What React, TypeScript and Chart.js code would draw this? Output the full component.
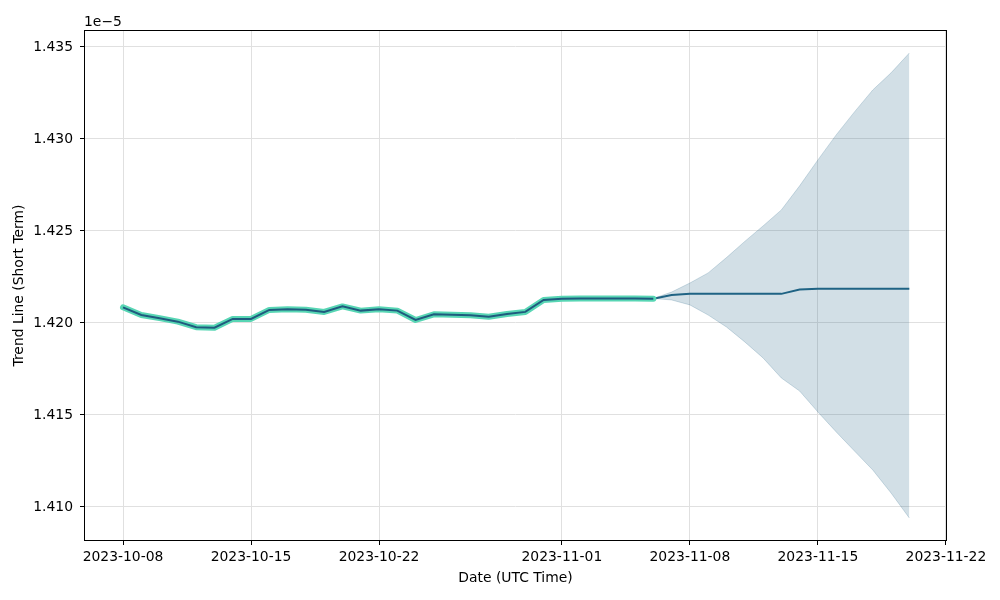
import React, { useEffect, useRef } from "react";
import { Chart, registerables } from "chart.js";

Chart.register(...registerables);

// ---- data (values in units of 1e-5) ----
const historyDates = [
  "2023-10-08", "2023-10-09", "2023-10-10", "2023-10-11", "2023-10-12", "2023-10-13",
  "2023-10-14", "2023-10-15", "2023-10-16", "2023-10-17", "2023-10-18", "2023-10-19",
  "2023-10-20", "2023-10-21", "2023-10-22", "2023-10-23", "2023-10-24", "2023-10-25",
  "2023-10-26", "2023-10-27", "2023-10-28", "2023-10-29", "2023-10-30", "2023-10-31",
  "2023-11-01", "2023-11-02", "2023-11-03", "2023-11-04", "2023-11-05", "2023-11-06",
];
const historyValues = [
  1.42085, 1.42043, 1.42026, 1.42007, 1.41977, 1.41974,
  1.42022, 1.42022, 1.42071, 1.42074, 1.42072, 1.4206,
  1.4209, 1.42067, 1.42074, 1.42067, 1.42016, 1.42047,
  1.42045, 1.42042, 1.42034, 1.42049, 1.4206, 1.42125,
  1.42132, 1.42133, 1.42133, 1.42133, 1.42133, 1.42132,
];
const forecastDates = [
  "2023-11-06", "2023-11-07", "2023-11-08", "2023-11-09", "2023-11-10", "2023-11-11",
  "2023-11-12", "2023-11-13", "2023-11-14", "2023-11-15", "2023-11-16", "2023-11-17",
  "2023-11-18", "2023-11-19", "2023-11-20",
];
const forecastValues = [
  1.42132, 1.42152, 1.42158, 1.42158, 1.42158, 1.42158,
  1.42158, 1.42158, 1.42182, 1.42186, 1.42186, 1.42186,
  1.42186, 1.42186, 1.42186,
];
const forecastUpper = [
  1.42133, 1.42168, 1.42217, 1.42272, 1.42355, 1.42443,
  1.42527, 1.42614, 1.42745, 1.42886, 1.43022, 1.43147,
  1.43266, 1.43359, 1.43467,
];
const forecastLower = [
  1.42133, 1.42125, 1.42098, 1.42043, 1.41978, 1.41897,
  1.4181, 1.41701, 1.4163, 1.41516, 1.41408, 1.41304,
  1.41201, 1.41076, 1.4094,
];
const xTickLabels = [
  "2023-10-08", "2023-10-15", "2023-10-22", "2023-11-01",
  "2023-11-08", "2023-11-15", "2023-11-22",
];
const yTickValues = [1.41, 1.415, 1.42, 1.425, 1.43, 1.435];
const xRange = [-2.133, 45.06];
const yRange = [1.40815, 1.43592];

const ORIGIN = Date.UTC(2023, 9, 8);
const dayOf = (s: string) => {
  const [y, m, d] = s.split("-").map(Number);
  return (Date.UTC(y, m - 1, d) - ORIGIN) / 86400000;
};
const toPts = (dates: string[], vals: number[]) =>
  dates.map((d, i) => ({ x: dayOf(d), y: vals[i] }));

const FONT = "'DejaVu Sans', sans-serif";
const FS = 13.9;

const framePlugin = {
  id: "frame",
  afterDraw(chart: any) {
    const { ctx, chartArea } = chart;
    ctx.save();
    ctx.strokeStyle = "#000";
    ctx.lineWidth = 1;
    ctx.strokeRect(
      Math.round(chartArea.left) + 0.5,
      Math.round(chartArea.top) + 0.5,
      Math.round(chartArea.right - chartArea.left) - 1,
      Math.round(chartArea.bottom - chartArea.top) - 1
    );
    ctx.fillStyle = "#000";
    ctx.font = `${FS}px ${FONT}`;
    ctx.textAlign = "left";
    ctx.textBaseline = "alphabetic";
    ctx.fillText("1e\u22125", chartArea.left, 26);
    ctx.restore();
  },
};

export default function App() {
  const ref = useRef<HTMLCanvasElement | null>(null);
  useEffect(() => {
    if (!ref.current) return;
    const chart = new Chart(ref.current, {
      type: "line",
      data: {
        datasets: [
          {
            data: toPts(forecastDates, forecastUpper),
            borderColor: "rgba(31,95,128,0.2)",
            backgroundColor: "rgba(31,95,128,0.2)",
            borderWidth: 1,
            pointRadius: 0,
            fill: "+1",
            order: 5,
          },
          {
            data: toPts(forecastDates, forecastLower),
            borderColor: "rgba(31,95,128,0.2)",
            backgroundColor: "rgba(31,95,128,0.2)",
            borderWidth: 1,
            pointRadius: 0,
            fill: false,
            order: 5,
          },
          {
            data: toPts(forecastDates, forecastValues),
            borderColor: "#1f6384",
            borderWidth: 2,
            pointRadius: 0,
            fill: false,
            order: 3,
          },
          {
            data: toPts(historyDates, historyValues),
            borderColor: "#58d6b4",
            borderWidth: 6,
            pointRadius: 0,
            fill: false,
            order: 2,
            borderJoinStyle: "round",
            borderCapStyle: "round",
          },
          {
            data: toPts(historyDates, historyValues),
            borderColor: "#1f5a7e",
            borderWidth: 2,
            pointRadius: 0,
            fill: false,
            order: 1,
          },
        ],
      },
      options: {
        animation: false,
        responsive: false,
        parsing: false as any,
        layout: { padding: { left: 0, right: 53, top: 30, bottom: 0 } },
        plugins: {
          legend: { display: false },
          tooltip: { enabled: false },
        },
        scales: {
          x: {
            type: "linear",
            min: xRange[0],
            max: xRange[1],
            afterFit: (s: any) => {
              s.height = 59;
            },
            afterBuildTicks: (s: any) => {
              s.ticks = xTickLabels.map((l) => ({ value: dayOf(l) }));
            },
            ticks: {
              autoSkip: false,
              maxRotation: 0,
              color: "#000",
              font: { family: FONT, size: FS },
              padding: 4,
              callback: (v: any) => {
                const i = xTickLabels.findIndex((l) => dayOf(l) === v);
                return i >= 0 ? xTickLabels[i] : "";
              },
            },
            grid: {
              color: "#e0e0e0",
              tickColor: "#000",
              tickLength: 4,
              lineWidth: 1,
            },
            border: { display: false },
            title: {
              display: true,
              text: "Date (UTC Time)",
              color: "#000",
              font: { family: FONT, size: FS },
              padding: { top: 0, bottom: 13 },
            },
          },
          y: {
            type: "linear",
            min: yRange[0],
            max: yRange[1],
            afterFit: (s: any) => {
              s.width = 84;
            },
            afterBuildTicks: (s: any) => {
              s.ticks = yTickValues.map((v) => ({ value: v }));
            },
            ticks: {
              autoSkip: false,
              color: "#000",
              font: { family: FONT, size: FS },
              padding: 7,
              callback: (v: any) => Number(v).toFixed(3),
            },
            grid: {
              color: "#e0e0e0",
              tickColor: "#000",
              tickLength: 4,
              lineWidth: 1,
            },
            border: { display: false },
            title: {
              display: true,
              text: "Trend Line (Short Term)",
              color: "#000",
              font: { family: FONT, size: FS },
              padding: { top: 11, bottom: 0 },
            },
          },
        },
      },
      plugins: [framePlugin],
    });
    return () => chart.destroy();
  }, []);
  return (
    <canvas
      ref={ref}
      width={1000}
      height={600}
      style={{ position: "absolute", left: 0, top: 0, display: "block" }}
    />
  );
}
